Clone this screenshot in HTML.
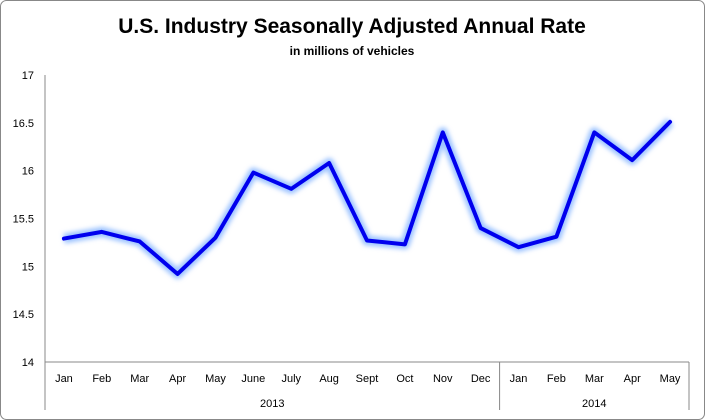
<!DOCTYPE html>
<html><head><meta charset="utf-8"><style>
body{margin:0;background:#fff;}
svg{display:block;font-family:"Liberation Sans",sans-serif;}
</style></head><body>
<svg id="c" width="705" height="420">
<defs><filter id="glow" x="-10%" y="-20%" width="120%" height="140%"><feGaussianBlur stdDeviation="2.5"/></filter></defs>
<rect x="0.5" y="0.5" width="704" height="419" rx="6" fill="#fff" stroke="#888"/>
<text x="352" y="33" text-anchor="middle" font-size="21" font-weight="bold" fill="#000">U.S. Industry Seasonally Adjusted Annual Rate</text>
<text x="352" y="55" text-anchor="middle" font-size="12" font-weight="bold" fill="#000">in millions of vehicles</text>
<g id="axes"></g>
<g id="series"></g>
</svg>
<script>
const months=["Jan","Feb","Mar","Apr","May","June","July","Aug","Sept","Oct","Nov","Dec","Jan","Feb","Mar","Apr","May"];
const values=[15.29,15.36,15.26,14.92,15.30,15.98,15.81,16.08,15.27,15.23,16.40,15.40,15.20,15.31,16.40,16.11,16.51];
const yTicks=[14,14.5,15,15.5,16,16.5,17];
const years=["2013","2014"];
const yearCounts=[12,5];
const X0=45,X1=689,Y0=362,Y1=75,ymin=14,ymax=17;
const band=(X1-X0)/months.length;
const x=i=>X0+band*(i+0.5);
const y=v=>Y0-(v-ymin)/(ymax-ymin)*(Y0-Y1);
const ns="http://www.w3.org/2000/svg";
function mk(t,a,p){const e=document.createElementNS(ns,t);for(const k in a)e.setAttribute(k,a[k]);p.appendChild(e);return e;}
const ax=document.getElementById('axes'),se=document.getElementById('series');
yTicks.forEach(v=>{
 const t=mk('text',{x:34,y:y(v)+4,'text-anchor':'end','font-size':11,fill:'#000'},ax);
 t.textContent=v;
 
 
});
const yl=mk('line',{x1:X0,y1:Y1,x2:X0,y2:Y0,stroke:'#888'},ax);


const xl=mk('line',{x1:X0,y1:Y0,x2:X1,y2:Y0,stroke:'#888'},ax);


months.forEach((m,i)=>{
 const t=mk('text',{x:x(i),y:382,'text-anchor':'middle','font-size':11,fill:'#000'},ax);
 t.textContent=m;
 
 
});
let start=0;
const sep0=mk('line',{x1:X0,y1:Y0,x2:X0,y2:410,stroke:'#888'},ax);


years.forEach((yr,k)=>{
 const end=start+yearCounts[k];
 const xe=X0+band*end;
 const s=mk('line',{x1:xe,y1:Y0,x2:xe,y2:410,stroke:'#888'},ax);
 
 
 const t=mk('text',{x:(X0+band*start+xe)/2,y:407,'text-anchor':'middle','font-size':11,fill:'#000'},ax);
 t.textContent=yr;
 
 
 start=end;
});
const pts=values.map((v,i)=>x(i)+','+y(v)).join(' ');
const g=mk('polyline',{points:pts,fill:'none',stroke:'#9cc3ff',"stroke-width":10,"stroke-linejoin":'round',filter:'url(#glow)'},se);


const l=mk('polyline',{points:pts,fill:'none',stroke:'#0000ee',"stroke-width":4,"stroke-linejoin":'round',"stroke-linecap":'round'},se);


</script>
</body></html>
